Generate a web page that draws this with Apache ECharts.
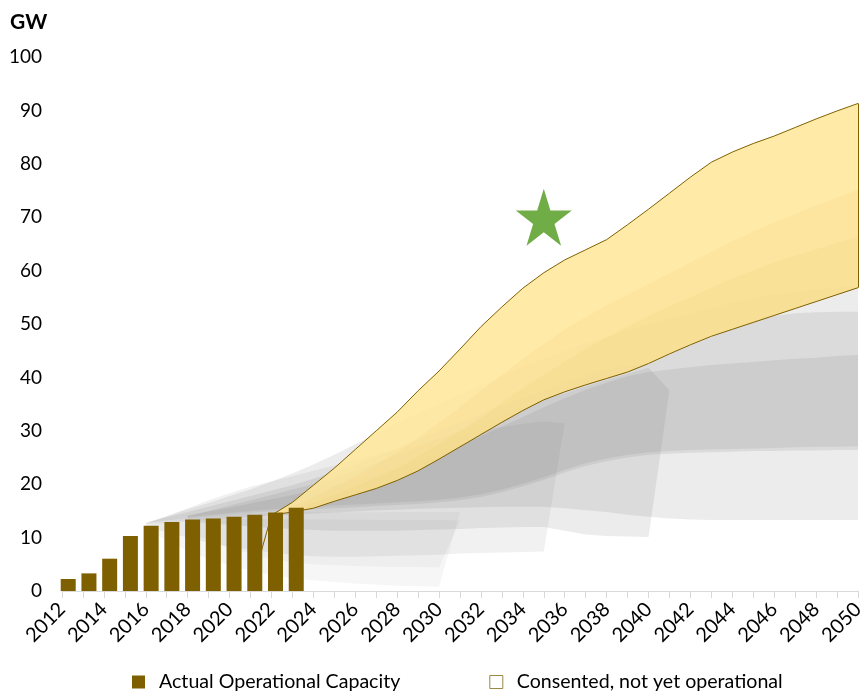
<!DOCTYPE html>
<html><head><meta charset="utf-8">
<script src="https://cdn.jsdelivr.net/npm/echarts@6/dist/echarts.min.js"></script>
<style>html,body{margin:0;padding:0;background:#fff}#c{width:865px;height:692px}</style>
</head><body><div id="c"></div>
<script>
// ---- categories ----
const years = [2012,2013,2014,2015,2016,2017,2018,2019,2020,2021,2022,2023,2024,2025,2026,2027,2028,2029,2030,
  2031,2032,2033,2034,2035,2036,2037,2038,2039,2040,2041,2042,2043,2044,2045,2046,2047,2048,2049,2050];

// ---- actual operational capacity (GW) ----
const barYears = [2012,2013,2014,2015,2016,2017,2018,2019,2020,2021,2022,2023];
const barValues = [2.25,3.3,6.05,10.3,12.2,12.9,13.4,13.6,13.9,14.3,14.7,15.6];

// ---- consented, not yet operational band (yellow) ----
const upperStart = 2021;
const upperLine = [0.3,14.2,16.6,19.8,23,26.5,30,33.5,37.5,41.2,45.3,49.5,53.2,56.7,59.6,62,63.9,65.8,68.6,71.5,
  74.5,77.5,80.3,82.2,83.8,85.2,86.8,88.4,89.9,91.3];
const lowerStart = 2022;
const lowerLine = [14.2,14.8,15.5,16.8,18,19.2,20.7,22.5,24.7,27,29.3,31.6,33.8,35.8,37.3,38.6,39.8,41,42.6,44.4,
  46.1,47.7,49,50.3,51.6,52.9,54.2,55.5,56.8];
const innerMid1 = [14.2,15.8,17.5,19.5,21.5,23.7,26,28.7,31.5,34.5,37.5,40.5,43.5,46.3,49,51.3,53.5,55.5,57.5,59.5,
  61.5,63.5,65.5,67.3,69,70.6,72.2,73.7,75.1];
const innerMid2 = [14.2,15.3,16.5,18,19.5,21.2,23,25.2,27.5,30,32.5,35.3,38,40.5,43,45.3,47.5,49.5,51.5,53.3,
  55,56.8,58.5,60,61.5,62.8,64,65.2,66.3];

// ---- earlier projection bands (grey) ----
const bandXStart = 2016;
const bandXLow = [12.8,13.2,13.6,14,14.3,14.6,14.9,15.1,15.3,15.5,15.7,15.9,16.1,16.3,16.6,17,17.6,18.5,19.6,20.8,
  22.2,23.4,24.3,25,25.5,25.7,25.9,26,26.1,26.2,26.2,26.3,26.3,26.4,26.4];
const bandXHigh = [12.8,14,15.3,16.5,17.8,19,20.5,22,23.7,25.5,27.5,29.5,31.5,33.3,35,36.8,38.5,40.3,42,43.5,
  45,46.3,47.5,48.8,50,51,52,53,54,54.8,55.5,56,56.5,56.8,57];
const bandYStart = 2016;
const bandYLow = [12.5,12.8,13.1,13.4,13.6,13.9,14.1,14.3,14.5,14.7,14.9,15.1,15.2,15.4,15.5,15.6,15.7,15.8,15.8,15.8,
  15.5,15.1,14.8,14.3,13.9,13.6,13.4,13.3,13.3,13.3,13.3,13.3,13.3,13.3,13.3];
const bandYHigh = [12.8,13.8,14.8,15.8,16.8,17.8,18.8,19.8,21,22.3,23.7,25.2,26.8,28.4,30,31.6,33.2,34.7,36.2,37.6,
  39,40.3,41.5,42.2,42.5,44.3,46,47.5,49,50.4,51.5,52,52.2,52.3,52.3];
const bandZStart = 2018;
const bandZLow = [13.8,14.2,14.6,15,15.3,15.6,15.8,16,16.2,16.4,16.6,16.8,17.1,17.5,18.1,19,20.1,21.3,22.7,23.9,
  24.8,25.5,26,26.2,26.4,26.5,26.6,26.7,26.8,26.9,27,27,27.1];
const bandZHigh = [14.2,14.9,15.6,16.4,17.2,18,18.8,19.7,20.6,21.7,22.8,24.2,25.6,27.3,29,30.8,32.6,34.4,36.1,37.7,
  39,40.2,41,41.5,41.9,42.3,42.6,42.9,43.2,43.5,43.7,44,44.2];
const band40Start = 2018;
const band40Low = [13,12.7,12.4,12.1,11.8,11.6,11.4,11.3,11.3,11.3,11.3,11.4,11.5,11.6,11.8,11.9,12,12,11.3,10.6,
  10.3,10.2,10.1,37.6];
const band40High = [14,15,16,17,18,19,20,21.2,22.5,24,25.5,27,28.5,30,31.5,33,34.5,35.8,37,38.3,39.5,40.7,41.8,37.6];
const band35Start = 2016;
const band35Low = [12,11,10,9,8.3,7.7,7.2,6.8,6.5,6.4,6.4,6.5,6.6,6.7,6.8,7,7.1,7.2,7.3,7.4,31.4];
const band35High = [12.5,14,15.5,17,18.3,19.5,20.5,21.5,22.5,23.5,24.5,25.5,26.5,27.5,28.4,29.2,30,30.7,31.3,31.8,31.4];
const band30Start = 2016;
const band30Low = [11.5,9.5,7.5,6,4.8,3.8,3,2.4,2,1.7,1.4,1.2,1,0.9,0.8,14.8];
const band30High = [12.2,13,13.6,14,14.3,14.5,14.6,14.7,14.7,14.7,14.7,14.7,14.8,14.8,14.8,14.8];
const band30bStart = 2018;
const band30bLow = [11,9.5,8,7,6,5.4,5,4.8,4.7,4.6,4.5,4.5,4.4,13.2];
const band30bHigh = [13.2,13.4,13.5,13.5,13.5,13.5,13.4,13.4,13.4,13.3,13.3,13.3,13.3,13.2];

// ---- target marker ----
const starYear = [2035];
const starValue = [70];

// ---- y ticks ----
const yTicks = [0,10,20,30,40,50,60,70,80,90,100];

const FONT = 'Lato';
function place(start, arr) {
  return years.map(y => { const i = y - start; return (i >= 0 && i < arr.length) ? arr[i] : null; });
}
function band(key, start, low, high, color, opacity, z) {
  const diff = high.map((h, i) => +(h - low[i]).toFixed(3));
  return [
    {type:'line', stack:key, data:place(start, low), symbol:'none', silent:true, z:z,
     lineStyle:{width:0, opacity:0}},
    {type:'line', stack:key, data:place(start, diff), symbol:'none', silent:true, z:z,
     lineStyle:{width:0, opacity:0}, areaStyle:{color:color, opacity:opacity}}
  ];
}
const grey = '#7f7f7f';
const series = [].concat(
  band('g30', band30Start, band30Low, band30High, grey, 0.07, 1),
  band('g30b', band30bStart, band30bLow, band30bHigh, grey, 0.06, 1),
  band('g35', band35Start, band35Low, band35High, grey, 0.11, 1),
  band('g40', band40Start, band40Low, band40High, grey, 0.15, 1),
  band('gX', bandXStart, bandXLow, bandXHigh, grey, 0.15, 1),
  band('gY', bandYStart, bandYLow, bandYHigh, grey, 0.15, 1),
  band('gZ', bandZStart, bandZLow, bandZHigh, grey, 0.15, 1),
  band('y1', lowerStart, lowerLine, upperLine.slice(lowerStart - upperStart), '#FFE699', 0.86, 2),
  band('y2', lowerStart, lowerLine, innerMid1, '#F2D07A', 0.16, 2),
  band('y3', lowerStart, lowerLine, innerMid2, '#EFCB6E', 0.16, 2)
);
series.push({type:'line', name:'upper', data:place(upperStart, upperLine), symbol:'none', silent:true, z:3,
  lineStyle:{color:'#7F6000', width:1}});
series.push({type:'line', name:'lower', data:place(lowerStart, lowerLine), symbol:'none', silent:true, z:3,
  lineStyle:{color:'#7F6000', width:1},
  markLine:{silent:true, symbol:'none', label:{show:false}, lineStyle:{color:'#7F6000', width:1, type:'solid'},
    data:[[{coord:[String(years[years.length-1]), lowerLine[lowerLine.length-1]]},
           {coord:[String(years[years.length-1]), upperLine[upperLine.length-1]]}]]}});
series.push({type:'line', name:'Consented, not yet operational', data:[], z:3});
series.push({type:'bar', name:'Actual Operational Capacity', xAxisIndex:1, barWidth:15, z:4,
  itemStyle:{color:'#7F6000'}, data:barYears.map((y, i) => [y, barValues[i]])});
series.push({type:'scatter', name:'target', z:5, silent:true,
  symbol:'path://M0,-1 L0.2245,-0.309 L0.951,-0.309 L0.363,0.118 L0.588,0.809 L0,0.382 L-0.588,0.809 L-0.363,0.118 L-0.951,-0.309 L-0.2245,-0.309 Z',
  symbolSize:[56,57], itemStyle:{color:'#70AD47', opacity:1},
  data:starYear.map((y, i) => [String(y), starValue[i]])});

const chart = echarts.init(document.getElementById('c'), null, {renderer:'canvas'});
chart.setOption({
  animation:false,
  backgroundColor:'#ffffff',
  graphic:[{type:'text', left:10, top:12, style:{text:'GW', font:'bold 21px Lato', fill:'#000'}}],
  grid:{left:62, right:7, top:57, bottom:101, containLabel:false, outerBoundsMode:'none'},
  legend:{
    left:132, top:672, padding:0, itemWidth:13, itemHeight:13, itemGap:89,
    textStyle:{fontFamily:FONT, fontSize:19.6, color:'#000', padding:[0,0,0,9]},
    data:[
      {name:'Actual Operational Capacity', icon:'rect', itemStyle:{color:'#7F6000', borderWidth:0}},
      {name:'Consented, not yet operational', icon:'rect',
       itemStyle:{color:'#ffffff', borderColor:'#9C8747', borderWidth:1}, lineStyle:{width:0}}
    ]
  },
  xAxis:[
    {type:'category', data:years, boundaryGap:false,
     axisLine:{lineStyle:{color:'#d9d9d9', width:1}},
     axisTick:{interval:0, alignWithLabel:true, length:7, lineStyle:{color:'#d9d9d9'}},
     axisLabel:{interval:1, rotate:45, margin:15, fontFamily:FONT, fontSize:20, color:'#000'},
     splitLine:{show:false}},
    {type:'value', show:false, min:2011.7, max:2050.1, splitLine:{show:false}}
  ],
  yAxis:{type:'value', min:yTicks[0], max:yTicks[yTicks.length-1], interval:10,
    axisLine:{show:false}, axisTick:{show:false}, splitLine:{show:false},
    axisLabel:{margin:20, fontFamily:FONT, fontSize:19, color:'#000'}},
  series:series
});
</script></body></html>
